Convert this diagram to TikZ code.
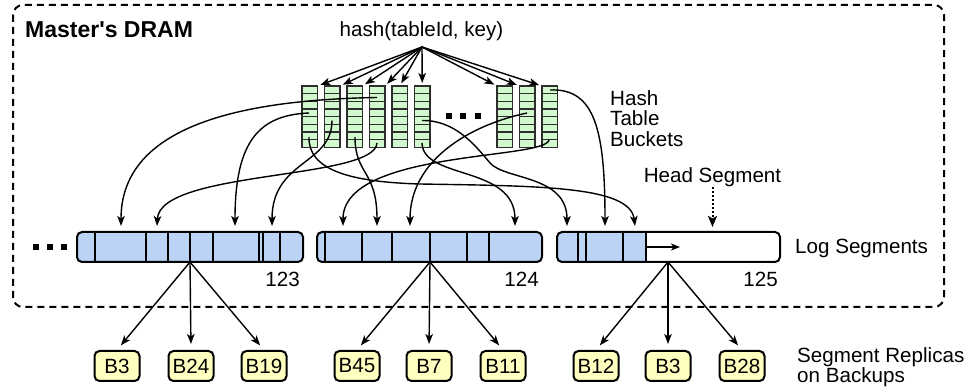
\documentclass[tikz,border=0pt]{standalone}
\usepackage{fontspec}
\setmainfont{Liberation Sans}
\usetikzlibrary{arrows.meta}
\definecolor{segblue}{HTML}{BBD4F6}
\definecolor{bktgreen}{HTML}{D2F9CD}
\definecolor{bkyellow}{HTML}{FFFFBF}
\definecolor{bkgray}{HTML}{2E2E2E}
\tikzset{
  conn/.style={line width=1.4pt, -{Stealth[length=10pt,width=7.5pt,inset=2.5pt]}},
  hasharrow/.style={conn, shorten >=3pt},
  repl/.style={conn, shorten >=6pt},
  dotarrow/.style={line width=2pt, dash pattern=on 2pt off 2pt, -{Stealth[length=11pt,width=9pt,inset=2.5pt]}},
  dashbox/.style={line width=2pt, dash pattern=on 7pt off 5pt, rounded corners=10pt},
  segnode/.style={draw, line width=2pt, rounded corners=5pt, minimum height=30pt, inner sep=0pt, outer sep=0pt, anchor=north west},
  divider/.style={line width=1.6pt},
  bucket/.style={draw=bkgray, fill=bktgreen, line width=1.3pt, minimum width=15.5pt, minimum height=61.5pt, inner sep=0pt, outer sep=0pt, anchor=north west},
  bktline/.style={draw=bkgray, line width=1.3pt},
  backup/.style={draw, line width=2pt, rounded corners=5pt, fill=bkyellow, minimum width=45pt, minimum height=30pt, inner sep=0pt, font=\fontsize{20.6}{20.6}\selectfont},
  lbl/.style={font=\fontsize{20.6}{20.6}\selectfont, inner sep=0pt},
  titlefont/.style={font=\bfseries\fontsize{23}{23}\selectfont, inner sep=0pt},
  dotsq/.style={fill=black, minimum size=6pt, inner sep=0pt},
}
\begin{document}
\begin{tikzpicture}[x=1pt,y=-1pt]
\useasboundingbox (0,0) rectangle (967,387);

% outer dashed region
\draw[dashbox] (13,5) rectangle (944,307);
\node[titlefont, anchor=base west] (title) at (25,37.5) {Master\textquotesingle s DRAM};

% hash function
\node[lbl, anchor=base] (hashfn) at (421.5,36.5) {hash(tableId, key)};
\coordinate (hsrc) at (422,47);

% bucket columns
\foreach \i/\L in {1/302, 2/324.5, 3/347, 4/369.5, 5/392, 6/414.5, 7/497, 8/519.5, 9/542} {
  \node[bucket] (c\i) at (\L,86) {};
  \foreach \r in {1,...,7} \draw[bktline] ({\L},{86+\r*7.69}) -- ++(15.5,0);
}
\node[dotsq] (bd1) at (448.5,116.5) {};
\node[dotsq] (bd2) at (462.5,116.5) {};
\node[dotsq] (bd3) at (478,116.5) {};

\foreach \a in {c1.north east, c2.north east, c3.north east, c4.north east, c5.north, c6.north, c7.north west, c8.north west, c9.north west}
  \draw[hasharrow] (hsrc) -- (\a);

\node[lbl, align=left, anchor=north west] (htb) at (610,90) {Hash\\Table\\Buckets};

% log segments
\node[segnode, fill=segblue, minimum width=226pt] (s123) at (77,232) {};
\foreach \x in {95,146,168,190,213,259,263,280} \draw[divider] (\x,232) -- (\x,262);
\node[segnode, fill=segblue, minimum width=225pt] (s124) at (317,232) {};
\foreach \x in {325,362,392,430,467,489} \draw[divider] (\x,232) -- (\x,262);
\begin{scope}
  \clip (550,220) rectangle (646,275);
  \fill[segblue, rounded corners=5pt] (557,232) rectangle (780,262);
\end{scope}
\node[segnode, minimum width=223pt] (s125) at (557,232) {};
\foreach \x in {578,586,623,646} \draw[divider] (\x,232) -- (\x,262);
\coordinate (hp) at (646,247);
\coordinate (hpend) at (680,247);
\draw[line width=1.4pt, -{Stealth[length=9pt,width=7pt,inset=2.5pt]}] (hp) -- (hpend);

\node[lbl, anchor=north east] (n123) at (300,272) {123};
\node[lbl, anchor=north east] (n124) at (539,272) {124};
\node[lbl, anchor=north east] (n125) at (778,272) {125};

\node[dotsq] (ld1) at (36,247.5) {};
\node[dotsq] (ld2) at (50,247.5) {};
\node[dotsq] (ld3) at (64,247.5) {};

\node[lbl, anchor=base west] (logl) at (795,254) {Log Segments};

% head segment
\node[lbl, anchor=base] (headl) at (712.5,183) {Head Segment};
\coordinate (headtip) at (712.5,227);
\draw[dotarrow] (headl.south) -- (headtip);

% bucket -> log entries
\coordinate (k1) at (377,97.5);
\coordinate (k2) at (377,143);
\coordinate (k3) at (309,113);
\coordinate (k4) at (332,120.5);
\coordinate (k5) at (549,140);
\coordinate (k6) at (355,137);
\coordinate (k7) at (527,113);
\coordinate (k8) at (422,143);
\coordinate (k9) at (422,120.5);
\coordinate (k10) at (550,90);
\coordinate (k11) at (309,137);
\foreach \i/\x in {1/121, 2/157, 3/235, 4/272, 5/343, 6/377, 7/410, 8/515, 9/567, 10/605, 11/635}
  \coordinate (t\i) at (\x,226);

\draw[conn] (k1) .. controls (230,100) and (121,130) .. (t1);
\draw[conn] (k2) .. controls (375,180) and (160,170) .. (t2);
\draw[conn] (k3) .. controls (260,115) and (235,140) .. (t3);
\draw[conn] (k4) .. controls (332,165) and (272,160) .. (t4);
\draw[conn] (k5) .. controls (545,160) and (343,150) .. (t5);
\draw[conn] (k6) .. controls (355,175) and (377,170) .. (t6);
\draw[conn] (k7) .. controls (470,125) and (410,160) .. (t7);
\draw[conn] (k8) .. controls (423,180) and (515,165) .. (t8);
\draw[conn] (k9) .. controls (455,120) and (475,145) .. (490,163) .. controls (505,180) and (567,175) .. (t9);
\draw[conn] (k10) .. controls (595,88) and (605,130) .. (t10);
\draw[conn] (k11) .. controls (308,170) and (350,182) .. (420,184) .. controls (540,186) and (630,186) .. (t11);

% backups
\node[backup] (b1) at (117,366) {B3};
\node[backup] (b2) at (191,366) {B24};
\node[backup] (b3) at (264,366) {B19};
\node[backup] (b4) at (357,366) {B45};
\node[backup] (b5) at (429,366) {B7};
\node[backup] (b6) at (503,366) {B11};
\node[backup] (b7) at (596,366) {B12};
\node[backup] (b8) at (668,366) {B3};
\node[backup] (b9) at (742,366) {B28};

\coordinate (r1) at (190,262);
\coordinate (r2) at (430,262);
\coordinate (r3) at (668,262);
\foreach \b in {b1,b2,b3} \draw[repl] (r1) -- (\b.north);
\foreach \b in {b4,b5,b6} \draw[repl] (r2) -- (\b.north);
\foreach \b in {b7,b8,b9} \draw[repl] (r3) -- (\b.north);

\node[lbl, align=left, anchor=north west] (segrep) at (797,347) {Segment Replicas\\on Backups};
\end{tikzpicture}
\end{document}
